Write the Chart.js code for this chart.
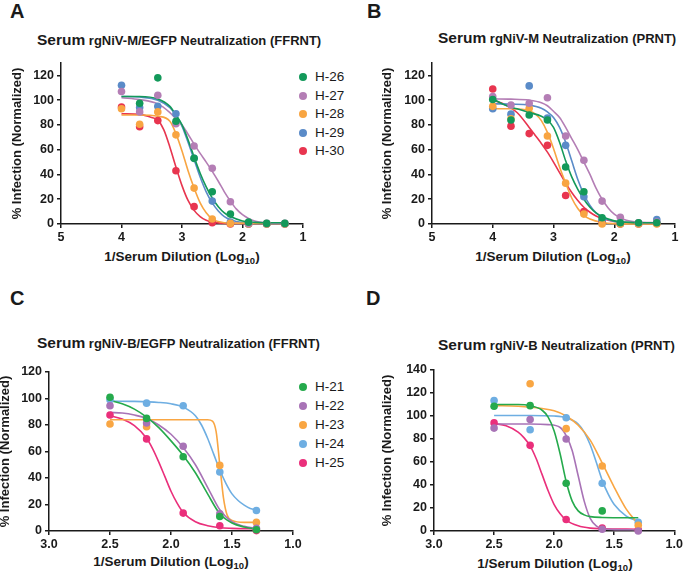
<!DOCTYPE html>
<html>
<head>
<meta charset="utf-8">
<script src="https://cdn.jsdelivr.net/npm/chart.js@4.4.0/dist/chart.umd.min.js"></script>
<style>
  body { margin: 0; background: #fff; font-family: "Liberation Sans", Arial, sans-serif; color: #1a1a1a; }
  #fig { position: relative; width: 685px; height: 572px; overflow: hidden; }
  canvas { position: absolute; }
  .letter { position: absolute; font-weight: bold; font-size: 20px; line-height: 20px; }
  .ttl { position: absolute; font-weight: bold; font-size: 13px; line-height: 20px; white-space: nowrap; }
  .ttl b { font-size: 15.5px; }
  .xt { position: absolute; font-weight: bold; font-size: 13.5px; line-height: 16px; white-space: nowrap; transform: translateX(-50%); }
  .xt sub { font-size: 9.5px; vertical-align: -3px; line-height: 0; }
  .leg { position: absolute; font-size: 13.5px; line-height: 14px; white-space: nowrap; }
  .leg i { position: absolute; left: -16px; top: 3px; width: 8px; height: 8px; border-radius: 50%; }
</style>
</head>
<body>
<div id="fig"></div>
<script>
// ==========================================
// 1. DATOS
// ==========================================

const doseM = [4.0, 3.7, 3.4, 3.1, 2.8, 2.5, 2.2, 1.9, 1.6, 1.3];
const doseB = [2.5, 2.2, 1.9, 1.6, 1.3];

const seraM = ['H-26', 'H-27', 'H-28', 'H-29', 'H-30'];
const seraB = ['H-21', 'H-22', 'H-23', 'H-24', 'H-25'];

const colorsM = ['#13995a', '#b47eb5', '#f8a542', '#5a8bc8', '#e8354f'];
const colorsB = ['#25aa4c', '#a873b6', '#f9a643', '#6eaee2', '#ea2f7b'];

// A: rgNiV-M/EGFP (FFRNT) - puntos
const ffrntM = [
  [null, 97.5, 118, 83, 53, 26, 8, 1.5, 0.5, 0.5],
  [107, 90.5, 104, 81, 63, 45, 18, 0.5, 0.5, 0.5],
  [93, 80.5, 90.5, 72, 29, 4, 0.5, 0, 0, 0],
  [112, 94, 95, 89, 53, 18.5, 1.5, 0, 0, 0],
  [94.5, 78.5, 83.5, 43, 14, 1, 0, 0, 0, 0]
];
// A: curvas ajustadas
const ffrntMFit = [
  [[4,103],[3.7,103],[3.4,101],[3.2,95],[3.1,88],[3.0,80],[2.9,68],[2.8,54],[2.7,41],[2.6,30],[2.5,21],[2.4,14],[2.3,9],[2.2,6],[2.0,2.5],[1.8,1.3],[1.6,1],[1.3,1]],
  [[4,102],[3.7,100.5],[3.4,97],[3.2,90],[3.1,85],[3.0,80],[2.9,72.5],[2.8,64.5],[2.7,57],[2.6,50],[2.5,42.5],[2.4,34.5],[2.3,26],[2.2,18.5],[2.1,12],[2.0,7.5],[1.9,4.5],[1.8,2.5],[1.6,1],[1.3,0.5]],
  [[4,88],[3.7,88],[3.4,87],[3.2,83],[3.1,73],[3.0,59],[2.9,43],[2.8,29],[2.7,17],[2.6,9],[2.5,4],[2.4,2],[2.2,0.7],[1.3,0.5]],
  [[4,103],[3.7,102.5],[3.4,100],[3.2,94],[3.1,88],[3.0,79],[2.9,66],[2.8,52],[2.7,38],[2.6,26],[2.5,17],[2.4,10.5],[2.3,6],[2.2,3.5],[2.0,1.2],[1.6,0.5],[1.3,0.5]],
  [[4,89],[3.7,88.5],[3.5,86],[3.4,84],[3.3,76],[3.2,62],[3.1,46],[3.0,31],[2.9,19],[2.8,11],[2.7,6],[2.6,3],[2.5,1.5],[2.2,0.5],[1.3,0.5]]
];

// B: rgNiV-M (PRNT) - puntos
const prntM = [
  [100.5, 84, 88, 84, 46, 26, 5, 1, 1, 1],
  [103, 96, 97.5, 102, 71, 51.5, 18.5, 5.5, 1, 1.5],
  [95, 85, 93.5, 71, 33, 8, 0, 0, 0, 0],
  [93, 88.7, 111.5, 85.5, 63.5, 22, 3, 0.5, 0.5, 3.5],
  [109, 79, 73, 63.5, 23, 10, 2, 0, 0, 0.5]
];
const prntMFit = [
  [[4,101],[3.8,96],[3.6,93],[3.4,90],[3.2,87],[3.1,84],[3.0,78],[2.9,66],[2.8,51],[2.7,38],[2.6,28],[2.5,20],[2.4,13.5],[2.3,9],[2.2,6],[2.0,2.5],[1.8,1.5],[1.6,1],[1.3,1]],
  [[4,101],[3.7,100.8],[3.4,100],[3.2,98],[3.1,95.5],[3.0,91],[2.9,86],[2.8,78],[2.7,69],[2.6,60],[2.5,50],[2.4,40],[2.3,29],[2.2,20],[2.1,13],[2.0,8],[1.9,5],[1.8,3],[1.6,1.5],[1.3,1]],
  [[4,93],[3.7,93],[3.4,91.5],[3.3,89],[3.2,83.5],[3.1,74],[3.0,61],[2.9,46],[2.8,33],[2.7,21],[2.6,12.5],[2.5,7],[2.4,4],[2.2,1.2],[2.0,0.3],[1.3,0]],
  [[4,97],[3.7,96.8],[3.4,96],[3.2,93.5],[3.1,90.5],[3.0,86],[2.9,78],[2.8,66],[2.7,51],[2.6,36],[2.5,24],[2.4,15],[2.3,9],[2.2,5.5],[2.0,2],[1.8,1],[1.6,1],[1.3,1]],
  [[4,100],[3.8,96.5],[3.6,90],[3.4,78],[3.3,71.5],[3.2,65],[3.1,58],[3.0,50],[2.9,41.5],[2.8,33],[2.7,25.5],[2.6,19],[2.5,13.5],[2.4,9.5],[2.3,6.5],[2.2,4.5],[2.0,2],[1.8,1],[1.6,0.6],[1.3,0.5]]
];

// C: rgNiV-B/EGFP (FFRNT)
const ffrntB = [
  [101, 85, 56, 11, 1],
  [94.5, 81.5, 64, 13, 2],
  [80.7, 78.7, null, 49.5, 6.5],
  [99, 96.5, 94.5, 44.5, 15.5],
  [87.5, 69.5, 13.5, 4, 0.3]
];
const ffrntBFit = [
  [[2.5,98.5],[2.4,96],[2.3,92],[2.2,86],[2.1,78],[2.0,68],[1.9,57],[1.8,44],[1.7,28],[1.6,13],[1.5,6],[1.4,3],[1.3,1.5]],
  [[2.5,89.5],[2.4,89],[2.3,87.5],[2.2,85],[2.1,80],[2.0,73],[1.9,63],[1.8,50],[1.7,33],[1.6,16],[1.5,7],[1.4,3.5],[1.3,2]],
  [[2.5,84],[2.2,84],[1.9,84],[1.7,84],[1.66,83],[1.63,75],[1.6,50],[1.57,25],[1.54,12],[1.5,8],[1.4,6.5],[1.3,6.5]],
  [[2.5,98],[2.3,97.8],[2.1,97],[2.0,96],[1.9,93.5],[1.8,87],[1.75,80],[1.7,70],[1.65,58],[1.6,46],[1.55,36],[1.5,28],[1.45,23],[1.4,19.5],[1.35,17],[1.3,16]],
  [[2.5,87],[2.4,84.5],[2.3,79.5],[2.2,70],[2.15,62],[2.1,52],[2.05,41],[2.0,30],[1.95,21],[1.9,14],[1.8,7],[1.7,4],[1.6,2.5],[1.5,2],[1.3,1.5]]
];

// D: rgNiV-B (PRNT)
const prntB = [
  [108.5, 109, 41.5, 17.5, null],
  [89.5, 97, 80, 1.5, 0],
  [null, 128, 89, 56.5, 5],
  [113.5, 88, 98.5, 41.5, 7.5],
  [94, 74.5, 10, 2.5, 1]
];
const prntBFit = [
  [[2.5,110],[2.3,110],[2.2,109],[2.1,105],[2.05,99],[2.0,87],[1.95,67],[1.9,43],[1.85,26],[1.8,17.5],[1.75,14],[1.7,12.5],[1.6,11.8],[1.3,11.5]],
  [[2.5,93],[2.2,93],[2.05,92.5],[1.95,90],[1.9,83],[1.85,70],[1.8,48],[1.75,26],[1.7,11],[1.65,4.5],[1.6,2],[1.5,1.2],[1.3,1]],
  [[2.5,109],[2.3,108.5],[2.1,106.5],[2.0,104.5],[1.9,100],[1.8,92],[1.7,79],[1.6,59],[1.5,38],[1.4,19],[1.3,6]],
  [[2.5,100.5],[2.2,100.5],[2.0,100],[1.9,98.5],[1.8,93],[1.75,86],[1.7,75],[1.65,60],[1.6,44],[1.55,32],[1.5,23],[1.4,13],[1.3,8.5]],
  [[2.5,93.5],[2.4,91.5],[2.3,86],[2.25,81],[2.2,74],[2.15,63],[2.1,49],[2.05,35],[2.0,23],[1.95,15],[1.9,9.5],[1.8,4.5],[1.7,2.5],[1.6,2],[1.3,1.5]]
];

// ==========================================
// 2. CONFIGURACIÓN DE PANELES
// ==========================================

const INK = '#1a1a1a';
const FONT = '"Liberation Sans", Arial, sans-serif';
const fig = document.getElementById('fig');

const panels = [
  { letter: 'A', lx: 10, ly: 1, title: 'rgNiV-M/EGFP Neutralization (FFRNT)', tx: 37, ty: 30,
    left: 0, top: 0, w: 345, h: 286, pad: { left: 0, top: 63, right: 42, bottom: 0 },
    yW: 61, yTitlePad: 10, xH: 62, xtx: 182, xty: 249,
    xMin: 1, xMax: 5, xStep: 1, xDec: 0, yMax: 130, yTop: 120,
    names: seraM, colors: colorsM, dose: doseM, pts: ffrntM, fit: ffrntMFit,
    legend: { x: 303, y: 77, dy: 18.5 } },
  { letter: 'B', lx: 367, ly: 1, title: 'rgNiV-M Neutralization (PRNT)', tx: 438, ty: 28,
    left: 345, top: 0, w: 340, h: 286, pad: { left: 0, top: 63, right: 10, bottom: 0 },
    yW: 87, yTitlePad: 35, xH: 62, xtx: 553, xty: 249,
    xMin: 1, xMax: 5, xStep: 1, xDec: 0, yMax: 130, yTop: 120,
    names: seraM, colors: colorsM, dose: doseM, pts: prntM, fit: prntMFit, legend: null },
  { letter: 'C', lx: 10, ly: 288, title: 'rgNiV-B/EGFP Neutralization (FFRNT)', tx: 37, ty: 333,
    left: 0, top: 286, w: 345, h: 286, pad: { left: 0, top: 86, right: 52, bottom: 0 },
    yW: 49, yTitlePad: -2, xH: 41, xtx: 171, xty: 554,
    xMin: 1, xMax: 3, xStep: 0.5, xDec: 1, yMax: 120, yTop: 120,
    names: seraB, colors: colorsB, dose: doseB, pts: ffrntB, fit: ffrntBFit,
    legend: { x: 303, y: 387, dy: 19 } },
  { letter: 'D', lx: 366, ly: 288, title: 'rgNiV-B Neutralization (PRNT)', tx: 438, ty: 335,
    left: 345, top: 286, w: 340, h: 286, pad: { left: 0, top: 84, right: 8, bottom: 0 },
    yW: 89, yTitlePad: 35, xH: 41, xtx: 555, xty: 556,
    xMin: 1, xMax: 3, xStep: 0.5, xDec: 1, yMax: 140, yTop: 140,
    names: seraB, colors: colorsB, dose: doseB, pts: prntB, fit: prntBFit, legend: null }
];

function addText(cls, x, y, html) {
  const d = document.createElement('div');
  d.className = cls;
  d.style.left = x + 'px';
  d.style.top = y + 'px';
  d.innerHTML = html;
  fig.appendChild(d);
  return d;
}

function tickFont() {
  return { family: FONT, size: 12.5, weight: 'bold' };
}

function makePanel(p) {
  addText('letter', p.lx, p.ly, p.letter);
  addText('ttl', p.tx, p.ty, '<b>Serum</b> ' + p.title);
  addText('xt', p.xtx, p.xty, '1/Serum Dilution (Log<sub>10</sub>)');

  if (p.legend) {
    p.names.forEach((name, i) => {
      const d = addText('leg', p.legend.x + 12, p.legend.y + i * p.legend.dy - 7, name);
      const dot = document.createElement('i');
      dot.style.background = p.colors[i];
      d.appendChild(dot);
    });
  }

  const cv = document.createElement('canvas');
  cv.width = p.w;
  cv.height = p.h;
  cv.style.left = p.left + 'px';
  cv.style.top = p.top + 'px';
  fig.appendChild(cv);

  const datasets = [];
  p.names.forEach((name, i) => {
    datasets.push({
      label: name + ' fit',
      data: p.fit[i].map(([x, y]) => ({ x, y })),
      showLine: true,
      borderColor: p.colors[i],
      borderWidth: 1.6,
      pointRadius: 0,
      pointHoverRadius: 0,
      cubicInterpolationMode: 'monotone',
      fill: false,
      clip: false,
      order: 2
    });
    datasets.push({
      label: name,
      data: p.dose.map((x, j) => ({ x, y: p.pts[i][j] })).filter(d => d.y !== null),
      showLine: false,
      pointRadius: 3.8,
      backgroundColor: p.colors[i],
      borderWidth: 0,
      clip: false,
      order: 1
    });
  });

  // marcas del eje Y: 0, 20, ... hasta yTop (el eje sigue hasta yMax sin marca)
  const yTicks = [];
  for (let v = 0; v <= p.yTop; v += 20) yTicks.push({ value: v });

  new Chart(cv, {
    type: 'scatter',
    data: { datasets },
    options: {
      responsive: false,
      animation: false,
      layout: { padding: p.pad },
      plugins: { legend: { display: false }, tooltip: { enabled: false } },
      scales: {
        x: {
          type: 'linear', reverse: true, min: p.xMin, max: p.xMax,
          ticks: { stepSize: p.xStep, autoSkip: false, maxRotation: 0, color: INK, font: tickFont(), padding: 2,
                   callback: v => v.toFixed(p.xDec) },
          grid: { drawOnChartArea: false, tickLength: 4, lineWidth: 1.5, color: INK },
          border: { color: INK, width: 1.5 },
          title: { display: false },
          afterFit: s => { s.height = p.xH; }
        },
        y: {
          type: 'linear', min: 0, max: p.yMax,
          ticks: { stepSize: 20, autoSkip: false, color: INK, font: tickFont(), padding: 3 },
          afterBuildTicks: s => { s.ticks = yTicks.map(t => ({ value: t.value })); },
          grid: { drawOnChartArea: false, tickLength: 4, lineWidth: 1.5, color: INK },
          border: { color: INK, width: 1.5 },
          title: { display: true, text: '% Infection (Normalized)', color: INK,
                   font: { family: FONT, size: 13, weight: 'bold' }, padding: { top: p.yTitlePad, bottom: 0 } },
          afterFit: s => { s.width = p.yW; }
        }
      }
    }
  });
}

// ==========================================
// 3. INICIALIZAR
// ==========================================

panels.forEach(makePanel);
</script>
</body>
</html>
